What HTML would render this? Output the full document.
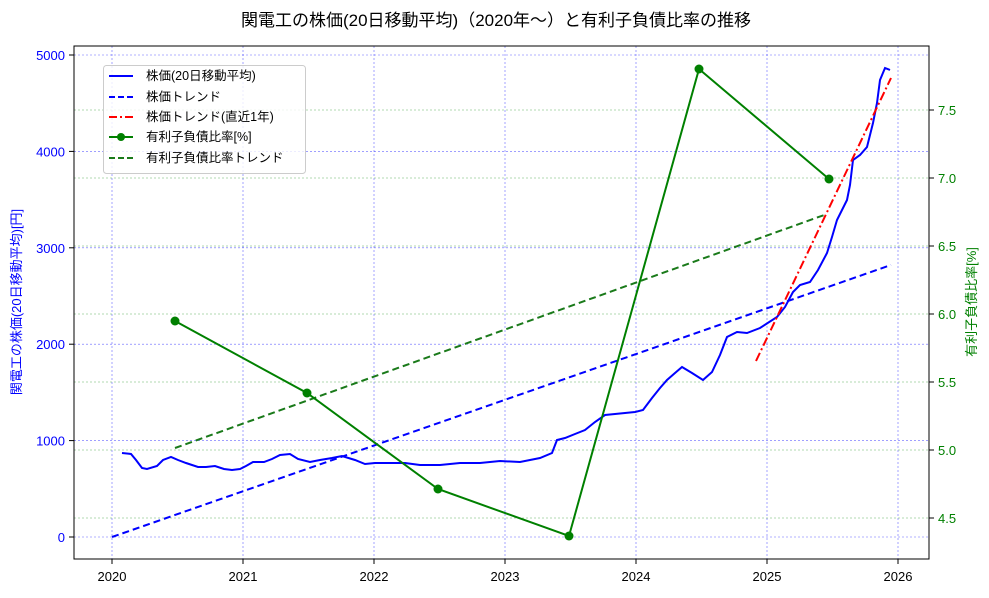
<!DOCTYPE html>
<html><head><meta charset="utf-8"><style>body{margin:0;background:#fff}</style></head><body>
<svg width="989" height="593" xmlns="http://www.w3.org/2000/svg" font-family="Liberation Sans, Noto Sans CJK JP, sans-serif">
<rect width="989" height="593" fill="#fff"/>
<text x="496" y="26" font-size="17" text-anchor="middle" fill="#000">関電工の株価(20日移動平均)（2020年〜）と有利子負債比率の推移</text>
<g stroke="#0000ff" stroke-opacity="0.6" stroke-width="0.6" stroke-dasharray="2,2">
<line x1="112" y1="46" x2="112" y2="559"/><line x1="243" y1="46" x2="243" y2="559"/><line x1="374" y1="46" x2="374" y2="559"/><line x1="505" y1="46" x2="505" y2="559"/><line x1="636" y1="46" x2="636" y2="559"/><line x1="767" y1="46" x2="767" y2="559"/><line x1="898" y1="46" x2="898" y2="559"/>
<line x1="74" y1="537" x2="929" y2="537"/><line x1="74" y1="440.6" x2="929" y2="440.6"/><line x1="74" y1="344.2" x2="929" y2="344.2"/><line x1="74" y1="247.8" x2="929" y2="247.8"/><line x1="74" y1="151.4" x2="929" y2="151.4"/><line x1="74" y1="55" x2="929" y2="55"/>
</g>
<g stroke="#008000" stroke-opacity="0.6" stroke-width="0.6" stroke-dasharray="2,2">
<line x1="74" y1="518" x2="929" y2="518"/><line x1="74" y1="450" x2="929" y2="450"/><line x1="74" y1="382" x2="929" y2="382"/><line x1="74" y1="314" x2="929" y2="314"/><line x1="74" y1="246" x2="929" y2="246"/><line x1="74" y1="178" x2="929" y2="178"/><line x1="74" y1="110" x2="929" y2="110"/>
</g>
<line x1="112" y1="537" x2="891" y2="265" stroke="#0000ff" stroke-width="2" stroke-dasharray="7,4"/>
<line x1="175" y1="448" x2="827" y2="214" stroke="#1a7a1a" stroke-width="2" stroke-dasharray="7,4"/>
<polyline fill="none" stroke="#0000ff" stroke-width="2" points="122,453 131,454 136,460 142,468 147,469 157,466 163,460 171,457 178,460 186,463 198,467 206,467 215,466 224,469 232,470 240,469 246,466 253,462 264,462 272,459 280,455 290,454 298,459 310,462 320,460 332,458 342,456 355,460 365,464 375,463 390,463 405,463 420,465 440,465 460,463 480,463 500,461 520,462 540,458 552,453 557,440 565,438 575,434 585,430 595,422 605,415 615,414 625,413 635,412 643,410 652,398 660,388 667,380 675,373 682,367 692,373 703,380 712,372 720,355 727,337 737,332 747,333 760,328 777,317 785,307 793,292 800,285 810,282 818,270 827,253 832,237 837,220 847,200 850,185 853,160 860,155 867,147 873,123 877,103 880,80 885,68 890,70"/>
<line x1="756" y1="361" x2="891" y2="78" stroke="#ff0000" stroke-width="2" stroke-dasharray="9,3,2,3"/>
<polyline fill="none" stroke="#008000" stroke-width="2" points="175,321 307,393 438,489 569,536 699,69 829,179"/>
<g fill="#008000"><circle cx="175" cy="321" r="4.5"/><circle cx="307" cy="393" r="4.5"/><circle cx="438" cy="489" r="4.5"/><circle cx="569" cy="536" r="4.5"/><circle cx="699" cy="69" r="4.5"/><circle cx="829" cy="179" r="4.5"/></g>
<rect x="74" y="46" width="855" height="513" fill="none" stroke="#000" stroke-width="1"/>
<g stroke="#000" stroke-width="1">
<line x1="112" y1="559" x2="112" y2="564"/><line x1="243" y1="559" x2="243" y2="564"/><line x1="374" y1="559" x2="374" y2="564"/><line x1="505" y1="559" x2="505" y2="564"/><line x1="636" y1="559" x2="636" y2="564"/><line x1="767" y1="559" x2="767" y2="564"/><line x1="898" y1="559" x2="898" y2="564"/>
<line x1="69" y1="537" x2="74" y2="537"/><line x1="69" y1="440.6" x2="74" y2="440.6"/><line x1="69" y1="344.2" x2="74" y2="344.2"/><line x1="69" y1="247.8" x2="74" y2="247.8"/><line x1="69" y1="151.4" x2="74" y2="151.4"/><line x1="69" y1="55" x2="74" y2="55"/>
<line x1="929" y1="518" x2="934" y2="518"/><line x1="929" y1="450" x2="934" y2="450"/><line x1="929" y1="382" x2="934" y2="382"/><line x1="929" y1="314" x2="934" y2="314"/><line x1="929" y1="246" x2="934" y2="246"/><line x1="929" y1="178" x2="934" y2="178"/><line x1="929" y1="110" x2="934" y2="110"/>
</g>
<g font-size="13" text-anchor="middle" fill="#000">
<text x="112" y="581">2020</text><text x="243" y="581">2021</text><text x="374" y="581">2022</text><text x="505" y="581">2023</text><text x="636" y="581">2024</text><text x="767" y="581">2025</text><text x="898" y="581">2026</text>
</g>
<g font-size="13" text-anchor="end" fill="#0000ff">
<text x="65" y="542">0</text><text x="65" y="445.6">1000</text><text x="65" y="349.2">2000</text><text x="65" y="252.8">3000</text><text x="65" y="156.4">4000</text><text x="65" y="60">5000</text>
</g>
<g font-size="13" fill="#008000">
<text x="938" y="523">4.5</text><text x="938" y="455">5.0</text><text x="938" y="387">5.5</text><text x="938" y="319">6.0</text><text x="938" y="251">6.5</text><text x="938" y="183">7.0</text><text x="938" y="115">7.5</text>
</g>
<text transform="translate(21,302) rotate(-90)" font-size="13" text-anchor="middle" fill="#0000ff">関電工の株価(20日移動平均)[円]</text>
<text transform="translate(976,302) rotate(-90)" font-size="13" text-anchor="middle" fill="#008000">有利子負債比率[%]</text>
<rect x="103.5" y="65.5" width="202" height="108" rx="3" fill="#fff" fill-opacity="0.8" stroke="#ccc"/>
<g font-size="12.5" fill="#000">
<line x1="109" y1="76" x2="133" y2="76" stroke="#0000ff" stroke-width="2"/><text x="146" y="80">株価(20日移動平均)</text>
<line x1="109" y1="97" x2="133" y2="97" stroke="#0000ff" stroke-width="2" stroke-dasharray="6,3"/><text x="146" y="101">株価トレンド</text>
<line x1="109" y1="117" x2="133" y2="117" stroke="#ff0000" stroke-width="2" stroke-dasharray="8,3,2,3"/><text x="146" y="121">株価トレンド(直近1年)</text>
<line x1="109" y1="137" x2="133" y2="137" stroke="#008000" stroke-width="2"/><circle cx="121" cy="137" r="4" fill="#008000"/><text x="146" y="141">有利子負債比率[%]</text>
<line x1="109" y1="158" x2="133" y2="158" stroke="#1a7a1a" stroke-width="2" stroke-dasharray="6,3"/><text x="146" y="162">有利子負債比率トレンド</text>
</g>
</svg>
</body></html>
